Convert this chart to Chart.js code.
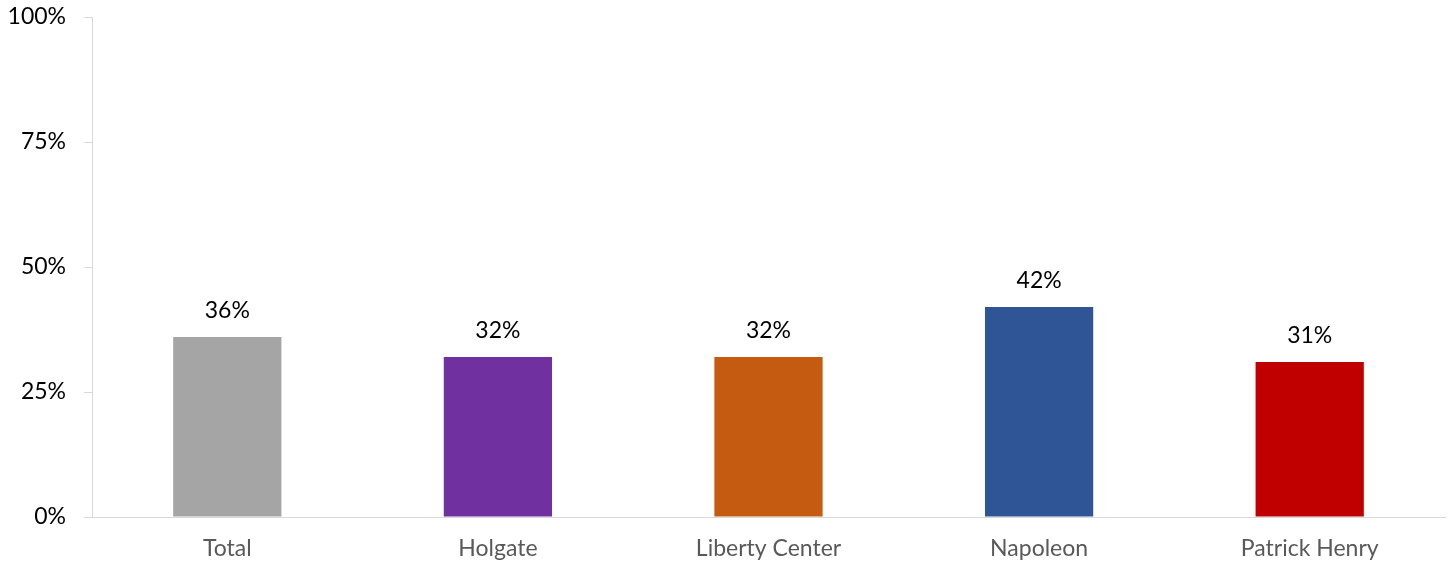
<!DOCTYPE html>
<html>
<head>
<meta charset="utf-8">
<script src="https://cdn.jsdelivr.net/npm/chart.js@4/dist/chart.umd.min.js"></script>
<style>
  html, body { margin: 0; padding: 0; background: #fff; }
  #wrap { width: 1456px; height: 562px; }
</style>
</head>
<body>
<div id="wrap"><canvas id="barChart"></canvas></div>
<script>
// Data
var schools = ["Total", "Holgate", "Liberty Center", "Napoleon", "Patrick Henry"];
var percents = [36, 32, 32, 42, 31];
var barColors = ["#a5a5a5", "#7030a0", "#c55a11", "#2f5597", "#c00000"];
var yTicks = [0, 25, 50, 75, 100];

var fontFamily = "Lato, 'Open Sans', sans-serif";

// draws the value above each bar
var valueLabels = {
  id: "valueLabels",
  afterDatasetsDraw(chart) {
    const ctx = chart.ctx;
    const meta = chart.getDatasetMeta(0);
    ctx.save();
    ctx.font = "23px " + fontFamily;
    ctx.fillStyle = "#000";
    ctx.textAlign = "center";
    ctx.textBaseline = "middle";
    meta.data.forEach((bar, i) => {
      ctx.fillText(percents[i] + "%", bar.x, bar.y - 26);
    });
    ctx.restore();
  }
};

const ctx = document.getElementById("barChart").getContext("2d");
new Chart(ctx, {
  type: "bar",
  data: {
    labels: schools,
    datasets: [{
      data: percents,
      backgroundColor: barColors,
      categoryPercentage: 1,
      barPercentage: 0.4
    }]
  },
  options: {
    responsive: true,
    maintainAspectRatio: false,
    animation: false,
    layout: { padding: { top: 17, right: 11, bottom: 0, left: 0 } },
    plugins: {
      legend: { display: false },
      tooltip: { enabled: false }
    },
    scales: {
      x: {
        grid: { display: false, drawTicks: false },
        border: { display: true, color: "#d9d9d9", width: 1 },
        ticks: {
          color: "#595959",
          font: { family: fontFamily, size: 23 },
          padding: 18,
          maxRotation: 0
        },
        afterFit(scale) { scale.height = 45; scale.paddingLeft = 0; scale.paddingRight = 0; }
      },
      y: {
        min: 0,
        max: 100,
        afterBuildTicks(scale) {
          scale.ticks = yTicks.map(v => ({ value: v }));
        },
        grid: {
          drawOnChartArea: false,
          drawTicks: true,
          tickLength: 8,
          color: "#d9d9d9"
        },
        border: { display: true, color: "#d9d9d9", width: 1 },
        ticks: {
          color: "#000",
          font: { family: fontFamily, size: 23 },
          padding: 18,
          callback: v => v + "%"
        },
        afterFit(scale) { scale.width = 92; scale.paddingTop = 0; scale.paddingBottom = 0; }
      }
    }
  },
  plugins: [valueLabels]
});
</script>
</body>
</html>
